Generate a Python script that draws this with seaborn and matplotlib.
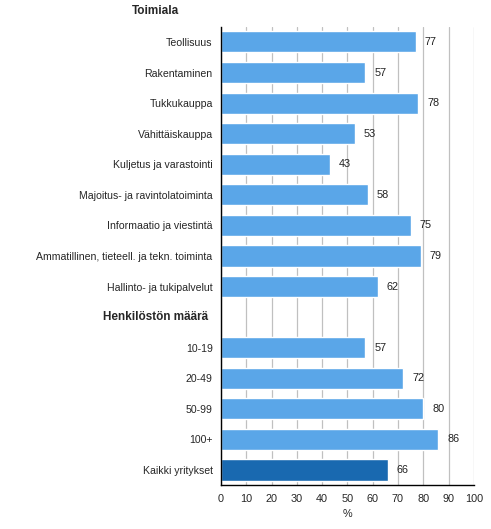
import matplotlib
matplotlib.use("Agg")
import pandas as pd
import matplotlib.pyplot as plt
import seaborn as sns

# data
toimiala = ["Teollisuus", "Rakentaminen", "Tukkukauppa", "Vähittäiskauppa",
            "Kuljetus ja varastointi", "Majoitus- ja ravintolatoiminta",
            "Informaatio ja viestintä",
            "Ammatillinen, tieteell. ja tekn. toiminta",
            "Hallinto- ja tukipalvelut"]
toimiala_vals = [77, 57, 78, 53, 43, 58, 75, 79, 62]
koko = ["10-19", "20-49", "50-99", "100+"]
koko_vals = [57, 72, 80, 86]
total_label = "Kaikki yritykset"
total_val = 66
header1 = "Toimiala"
header2 = "Henkilöstön määrä"

LIGHT = "#5aa6e8"
DARK = "#1969b0"
FS = 7.8

sns.set_style("white")
plt.rcParams["font.family"] = ["Liberation Sans", "DejaVu Sans"]
plt.rcParams["font.size"] = FS

labels = toimiala + koko + [total_label]
values = toimiala_vals + koko_vals + [total_val]
df = pd.DataFrame({"label": labels, "value": values})
order = toimiala + [header2] + koko + [total_label]
palette = {l: LIGHT for l in labels}
palette[total_label] = DARK

fig = plt.figure(figsize=(4.91, 5.29), dpi=100)
ax = fig.add_axes([0.450, 0.0826, 0.515, 0.867])
sns.barplot(data=df, x="value", y="label", hue="label", order=order,
            hue_order=labels, palette=palette, orient="h", width=0.69,
            dodge=False, legend=False, saturation=1, ax=ax)

for c in ax.containers:
    ax.bar_label(c, padding=6.5, fontsize=FS, color="#222222")

ax.set_xlim(0, 100)
ax.set_ylim(len(order) - 0.5, -0.5)
ax.set_xticks(range(0, 101, 10))
ax.xaxis.grid(True, color="#c0c0c0", linewidth=0.9)
ax.set_axisbelow(True)
ax.set_xlabel("%", fontsize=FS, labelpad=4)
ax.set_ylabel("")
ax.tick_params(axis="x", direction="out", length=4, width=0.8, color="black",
               pad=2, labelsize=FS)
ax.tick_params(axis="y", length=0, pad=6, labelsize=7.6)
for s in ["top", "right"]:
    ax.spines[s].set_visible(False)
for s in ["left", "bottom"]:
    ax.spines[s].set_color("black")
    ax.spines[s].set_linewidth(1)

# header row stays empty in the tick labels
ax.set_yticks(range(len(order)))
ax.set_yticklabels(["" if o == header2 else o for o in order])

trans = matplotlib.transforms.blended_transform_factory(fig.transFigure, ax.transData)
ax.text(156 / 491, -1, header1, transform=trans, ha="center", va="center",
        fontweight="bold", fontsize=8.5, clip_on=False)
ax.text(156 / 491, order.index(header2), header2, transform=trans, ha="center",
        va="center", fontweight="bold", fontsize=8.5, clip_on=False)

fig.savefig("out.png", dpi=100)
